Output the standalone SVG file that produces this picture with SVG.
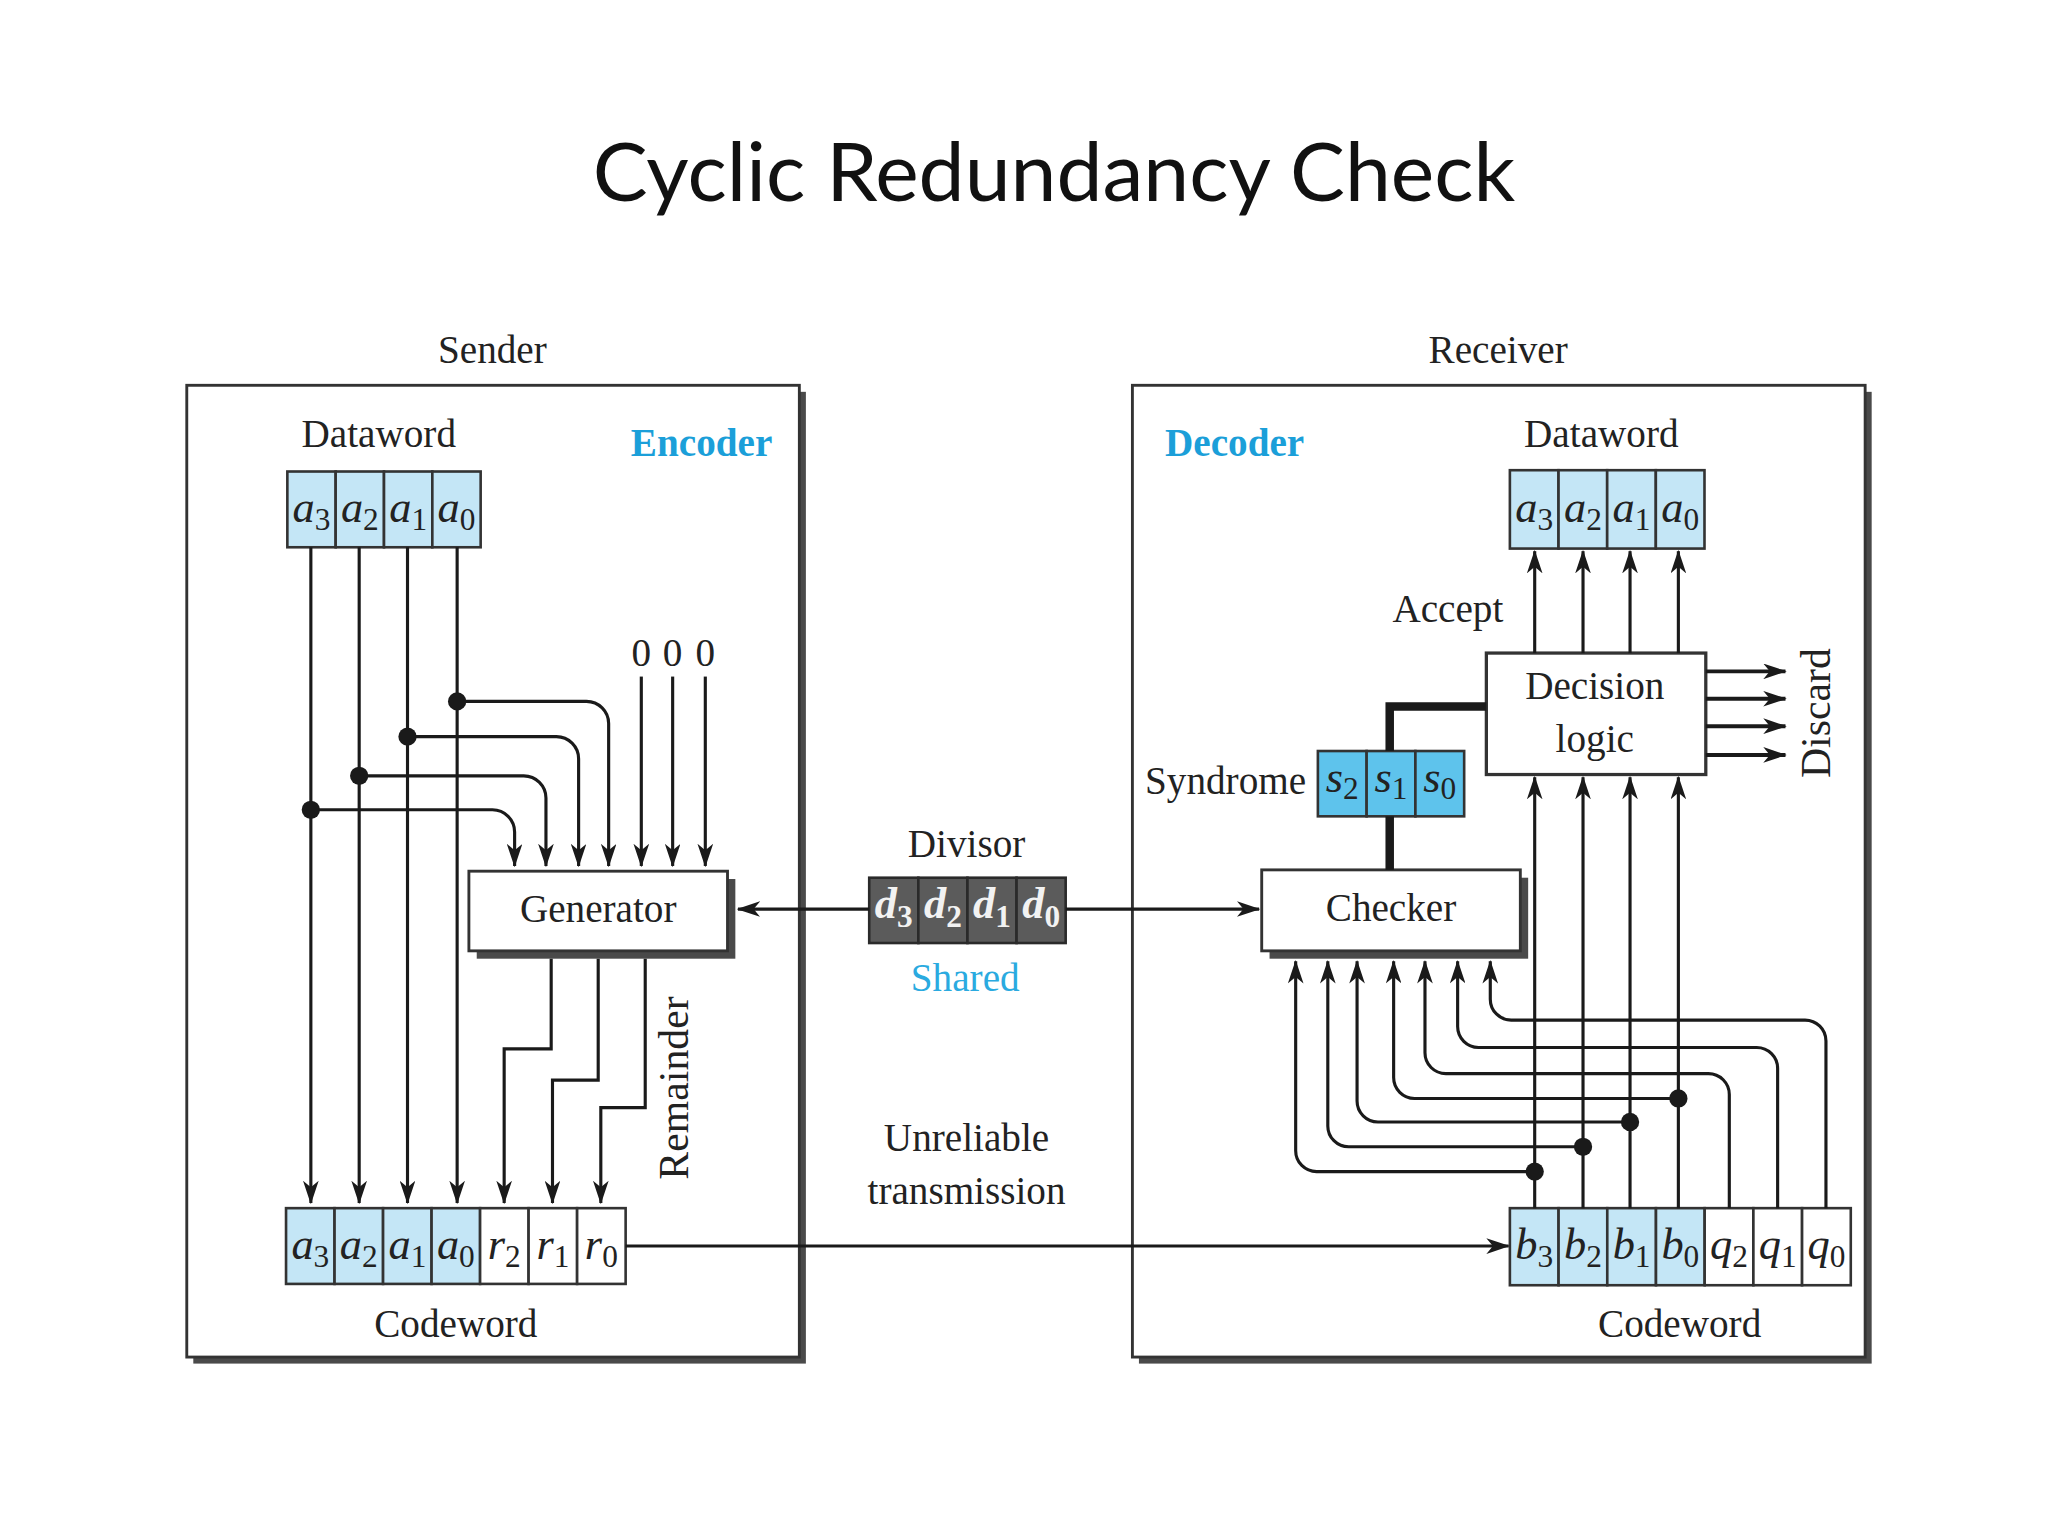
<svg xmlns="http://www.w3.org/2000/svg" width="2048" height="1536" viewBox="0 0 2048 1536">
<defs>
<style>
.lbl{font-family:"Liberation Serif","Times New Roman",serif;font-size:30px;fill:#222}
.rot{font-family:"Liberation Serif","Times New Roman",serif;font-size:32px;fill:#222}
.blue{font-family:"Liberation Serif","Times New Roman",serif;font-size:30px;font-weight:bold;fill:#1b9fd9}
.shared{font-family:"Liberation Serif","Times New Roman",serif;font-size:30px;fill:#2aaae0}
.cell{font-family:"Liberation Serif","Times New Roman",serif;fill:#222}
.v{font-style:italic;font-size:34px}
.sub{font-size:24px}
.dcell{font-family:"Liberation Serif","Times New Roman",serif;fill:#f2f2f2;font-weight:bold}
.ln{fill:none;stroke:#1a1a1a;stroke-width:2.2}
.ar{fill:none;stroke:#1a1a1a;stroke-width:2.4;marker-end:url(#ah)}
.arT{fill:none;stroke:#1a1a1a;stroke-width:3;marker-end:url(#ah)}
.thick{fill:none;stroke:#1a1a1a;stroke-width:6.5}
.lb{fill:#c4e6f6;stroke:#333;stroke-width:2}
.wb{fill:#fff;stroke:#333;stroke-width:2}
.sb{fill:#5ec3ec;stroke:#333;stroke-width:2}
.db{fill:#5b5b5b;stroke:#2a2a2a;stroke-width:2}
.box{fill:#fff;stroke:#333;stroke-width:2.2}
.shadow{fill:#4a4a4a}
.dot{fill:#1a1a1a}
</style>
<marker id="ah" markerUnits="userSpaceOnUse" markerWidth="18" markerHeight="12" viewBox="0 0 18 12" refX="17" refY="6" orient="auto">
<path d="M0,0 L18,6 L0,12 L5,6 z" fill="#1a1a1a"/>
</marker>
</defs>
<rect width="2048" height="1536" fill="#fff"/>
<g transform="scale(1.306122)">
<text x="807" y="154" text-anchor="middle" style="font-family:Lato,'Open Sans',sans-serif;font-size:63px;fill:#111">Cyclic Redundancy Check</text>

<g id="sender">
<rect class="shadow" x="148" y="300" width="469" height="744"/>
<rect class="box" x="143" y="295" width="469" height="744"/>
<text class="lbl" x="377" y="278" text-anchor="middle">Sender</text>
<text class="blue" x="483" y="349">Encoder</text>
</g>

<g id="receiver">
<rect class="shadow" x="872" y="300" width="561" height="744"/>
<rect class="box" x="867" y="295" width="561" height="744"/>
<text class="lbl" x="1147" y="278" text-anchor="middle">Receiver</text>
<text class="blue" x="892" y="349">Decoder</text>
</g>

<g id="sender-dataword">
<text class="lbl" x="290" y="342" text-anchor="middle">Dataword</text>
<rect class="lb" x="220" y="361" width="37" height="58"/>
<rect class="lb" x="257" y="361" width="37" height="58"/>
<rect class="lb" x="294" y="361" width="37" height="58"/>
<rect class="lb" x="331" y="361" width="37" height="58"/>
<text class="cell" x="238.5" y="400" text-anchor="middle"><tspan class="v">a</tspan><tspan class="sub" dy="6">3</tspan></text>
<text class="cell" x="275.5" y="400" text-anchor="middle"><tspan class="v">a</tspan><tspan class="sub" dy="6">2</tspan></text>
<text class="cell" x="312.5" y="400" text-anchor="middle"><tspan class="v">a</tspan><tspan class="sub" dy="6">1</tspan></text>
<text class="cell" x="349.5" y="400" text-anchor="middle"><tspan class="v">a</tspan><tspan class="sub" dy="6">0</tspan></text>
</g>

<g id="zeros">
<text class="lbl" x="491" y="510" text-anchor="middle">0</text>
<text class="lbl" x="515" y="510" text-anchor="middle">0</text>
<text class="lbl" x="540" y="510" text-anchor="middle">0</text>
</g>

<g id="generator">
<rect class="shadow" x="365" y="673" width="198" height="61"/>
<rect class="box" x="359" y="667" width="198" height="61"/>
<text class="lbl" x="458" y="706" text-anchor="middle">Generator</text>
</g>

<g id="sender-codeword">
<rect class="lb" x="219" y="925" width="37.14" height="58"/>
<rect class="lb" x="256.14" y="925" width="37.14" height="58"/>
<rect class="lb" x="293.29" y="925" width="37.14" height="58"/>
<rect class="lb" x="330.43" y="925" width="37.14" height="58"/>
<rect class="wb" x="367.57" y="925" width="37.14" height="58"/>
<rect class="wb" x="404.71" y="925" width="37.14" height="58"/>
<rect class="wb" x="441.86" y="925" width="37.14" height="58"/>
<text class="cell" x="237.6" y="964" text-anchor="middle"><tspan class="v">a</tspan><tspan class="sub" dy="6">3</tspan></text>
<text class="cell" x="274.7" y="964" text-anchor="middle"><tspan class="v">a</tspan><tspan class="sub" dy="6">2</tspan></text>
<text class="cell" x="311.9" y="964" text-anchor="middle"><tspan class="v">a</tspan><tspan class="sub" dy="6">1</tspan></text>
<text class="cell" x="349" y="964" text-anchor="middle"><tspan class="v">a</tspan><tspan class="sub" dy="6">0</tspan></text>
<text class="cell" x="386.1" y="964" text-anchor="middle"><tspan class="v">r</tspan><tspan class="sub" dy="6">2</tspan></text>
<text class="cell" x="423.3" y="964" text-anchor="middle"><tspan class="v">r</tspan><tspan class="sub" dy="6">1</tspan></text>
<text class="cell" x="460.4" y="964" text-anchor="middle"><tspan class="v">r</tspan><tspan class="sub" dy="6">0</tspan></text>
<text class="lbl" x="349" y="1024" text-anchor="middle">Codeword</text>
<text class="rot" x="527" y="833" text-anchor="middle" transform="rotate(-90 527 833)">Remainder</text>
</g>

<g id="divisor">
<text class="lbl" x="740" y="656" text-anchor="middle">Divisor</text>
<rect class="db" x="665.5" y="672" width="37.6" height="50"/>
<rect class="db" x="703.1" y="672" width="37.6" height="50"/>
<rect class="db" x="740.7" y="672" width="37.6" height="50"/>
<rect class="db" x="778.3" y="672" width="37.6" height="50"/>
<text class="dcell" x="684.3" y="703" text-anchor="middle"><tspan class="v">d</tspan><tspan class="sub" dy="7">3</tspan></text>
<text class="dcell" x="721.9" y="703" text-anchor="middle"><tspan class="v">d</tspan><tspan class="sub" dy="7">2</tspan></text>
<text class="dcell" x="759.5" y="703" text-anchor="middle"><tspan class="v">d</tspan><tspan class="sub" dy="7">1</tspan></text>
<text class="dcell" x="797.1" y="703" text-anchor="middle"><tspan class="v">d</tspan><tspan class="sub" dy="7">0</tspan></text>
<text class="shared" x="739" y="759" text-anchor="middle">Shared</text>
</g>

<g id="channel">
<text class="lbl" x="740" y="881" text-anchor="middle">Unreliable</text>
<text class="lbl" x="740" y="922" text-anchor="middle">transmission</text>
</g>

<g id="receiver-dataword">
<text class="lbl" x="1226" y="342" text-anchor="middle">Dataword</text>
<rect class="lb" x="1156" y="360" width="37.25" height="60"/>
<rect class="lb" x="1193.25" y="360" width="37.25" height="60"/>
<rect class="lb" x="1230.5" y="360" width="37.25" height="60"/>
<rect class="lb" x="1267.75" y="360" width="37.25" height="60"/>
<text class="cell" x="1174.6" y="400" text-anchor="middle"><tspan class="v">a</tspan><tspan class="sub" dy="6">3</tspan></text>
<text class="cell" x="1211.9" y="400" text-anchor="middle"><tspan class="v">a</tspan><tspan class="sub" dy="6">2</tspan></text>
<text class="cell" x="1249.1" y="400" text-anchor="middle"><tspan class="v">a</tspan><tspan class="sub" dy="6">1</tspan></text>
<text class="cell" x="1286.4" y="400" text-anchor="middle"><tspan class="v">a</tspan><tspan class="sub" dy="6">0</tspan></text>
<text class="lbl" x="1151" y="476" text-anchor="end">Accept</text>
</g>

<g id="decision-logic">
<rect class="box" x="1138" y="500" width="168" height="93" style="stroke-width:2.5"/>
<text class="lbl" x="1221" y="535" text-anchor="middle">Decision</text>
<text class="lbl" x="1221" y="576" text-anchor="middle">logic</text>
<text class="rot" x="1401" y="546" text-anchor="middle" transform="rotate(-90 1401 546)">Discard</text>
</g>

<g id="syndrome">
<text class="lbl" x="1000" y="608" text-anchor="end">Syndrome</text>
<rect class="sb" x="1009" y="575" width="37.33" height="50"/>
<rect class="sb" x="1046.33" y="575" width="37.33" height="50"/>
<rect class="sb" x="1083.67" y="575" width="37.33" height="50"/>
<text class="cell" x="1027.7" y="606" text-anchor="middle"><tspan class="v">s</tspan><tspan class="sub" dy="6">2</tspan></text>
<text class="cell" x="1065" y="606" text-anchor="middle"><tspan class="v">s</tspan><tspan class="sub" dy="6">1</tspan></text>
<text class="cell" x="1102.3" y="606" text-anchor="middle"><tspan class="v">s</tspan><tspan class="sub" dy="6">0</tspan></text>
</g>

<g id="checker">
<rect class="shadow" x="972" y="672" width="198" height="62"/>
<rect class="box" x="966" y="666" width="198" height="62"/>
<text class="lbl" x="1065" y="705" text-anchor="middle">Checker</text>
</g>

<g id="receiver-codeword">
<rect class="lb" x="1156" y="925" width="37.29" height="59"/>
<rect class="lb" x="1193.29" y="925" width="37.29" height="59"/>
<rect class="lb" x="1230.57" y="925" width="37.29" height="59"/>
<rect class="lb" x="1267.86" y="925" width="37.29" height="59"/>
<rect class="wb" x="1305.14" y="925" width="37.29" height="59"/>
<rect class="wb" x="1342.43" y="925" width="37.29" height="59"/>
<rect class="wb" x="1379.71" y="925" width="37.29" height="59"/>
<text class="cell" x="1174.6" y="964" text-anchor="middle"><tspan class="v">b</tspan><tspan class="sub" dy="6">3</tspan></text>
<text class="cell" x="1211.9" y="964" text-anchor="middle"><tspan class="v">b</tspan><tspan class="sub" dy="6">2</tspan></text>
<text class="cell" x="1249.2" y="964" text-anchor="middle"><tspan class="v">b</tspan><tspan class="sub" dy="6">1</tspan></text>
<text class="cell" x="1286.5" y="964" text-anchor="middle"><tspan class="v">b</tspan><tspan class="sub" dy="6">0</tspan></text>
<text class="cell" x="1323.8" y="964" text-anchor="middle"><tspan class="v">q</tspan><tspan class="sub" dy="6">2</tspan></text>
<text class="cell" x="1361.1" y="964" text-anchor="middle"><tspan class="v">q</tspan><tspan class="sub" dy="6">1</tspan></text>
<text class="cell" x="1398.4" y="964" text-anchor="middle"><tspan class="v">q</tspan><tspan class="sub" dy="6">0</tspan></text>
<text class="lbl" x="1286" y="1024" text-anchor="middle">Codeword</text>
</g>

<g id="connectors">
<path class="ar" d="M238,419 V921"/>
<path class="ar" d="M275,419 V921"/>
<path class="ar" d="M312,419 V921"/>
<path class="ar" d="M350,419 V921"/>
<path class="ar" d="M238,620 H377 A17,17 0 0 1 394,637 V663"/>
<path class="ar" d="M275,594 H401 A17,17 0 0 1 418,611 V663"/>
<path class="ar" d="M312,564 H426 A17,17 0 0 1 443,581 V663"/>
<path class="ar" d="M350,537 H449 A17,17 0 0 1 466,554 V663"/>
<circle class="dot" cx="238" cy="620" r="7"/>
<circle class="dot" cx="275" cy="594" r="7"/>
<circle class="dot" cx="312" cy="564" r="7"/>
<circle class="dot" cx="350" cy="537" r="7"/>
<path class="ar" d="M491,518 V663"/>
<path class="ar" d="M515,518 V663"/>
<path class="ar" d="M540,518 V663"/>
<path class="ar" d="M422,734 V803 H386 V921"/>
<path class="ar" d="M458,734 V827 H423 V921"/>
<path class="ar" d="M494,734 V848 H460 V921"/>
<path class="ar" d="M665.5,696 H565"/>
<path class="ar" d="M816,696 H964"/>
<path class="ar" d="M479,954 H1155"/>
<path class="thick" d="M1064,666 V625"/>
<path class="thick" d="M1064,575 V541 H1138"/>
<path class="ar" d="M1175,500 V422"/>
<path class="ar" d="M1212,500 V422"/>
<path class="ar" d="M1248,500 V422"/>
<path class="ar" d="M1285,500 V422"/>
<path class="arT" d="M1306,514 H1367"/>
<path class="arT" d="M1306,535 H1367"/>
<path class="arT" d="M1306,556 H1367"/>
<path class="arT" d="M1306,578 H1367"/>
<path class="ar" d="M1175,925 V595"/>
<path class="ar" d="M1212,925 V595"/>
<path class="ar" d="M1248,925 V595"/>
<path class="ar" d="M1285,925 V595"/>
<path class="ar" d="M1175,897 H1008 A16,16 0 0 1 992,881 V736"/>
<path class="ar" d="M1212,878 H1032.6 A16,16 0 0 1 1016.6,862 V736"/>
<path class="ar" d="M1248,859 H1055 A16,16 0 0 1 1039,843 V736"/>
<path class="ar" d="M1285,841 H1083 A16,16 0 0 1 1067,825 V736"/>
<path class="ar" d="M1324,925 V838 A16,16 0 0 0 1308,822 H1107 A16,16 0 0 1 1091,806 V736"/>
<path class="ar" d="M1361,925 V818 A16,16 0 0 0 1345,802 H1132 A16,16 0 0 1 1116,786 V736"/>
<path class="ar" d="M1398,925 V797 A16,16 0 0 0 1382,781 H1157 A16,16 0 0 1 1141,765 V736"/>
<circle class="dot" cx="1175" cy="897" r="7"/>
<circle class="dot" cx="1212" cy="878" r="7"/>
<circle class="dot" cx="1248" cy="859" r="7"/>
<circle class="dot" cx="1285" cy="841" r="7"/>
</g>
</g>
</svg>
